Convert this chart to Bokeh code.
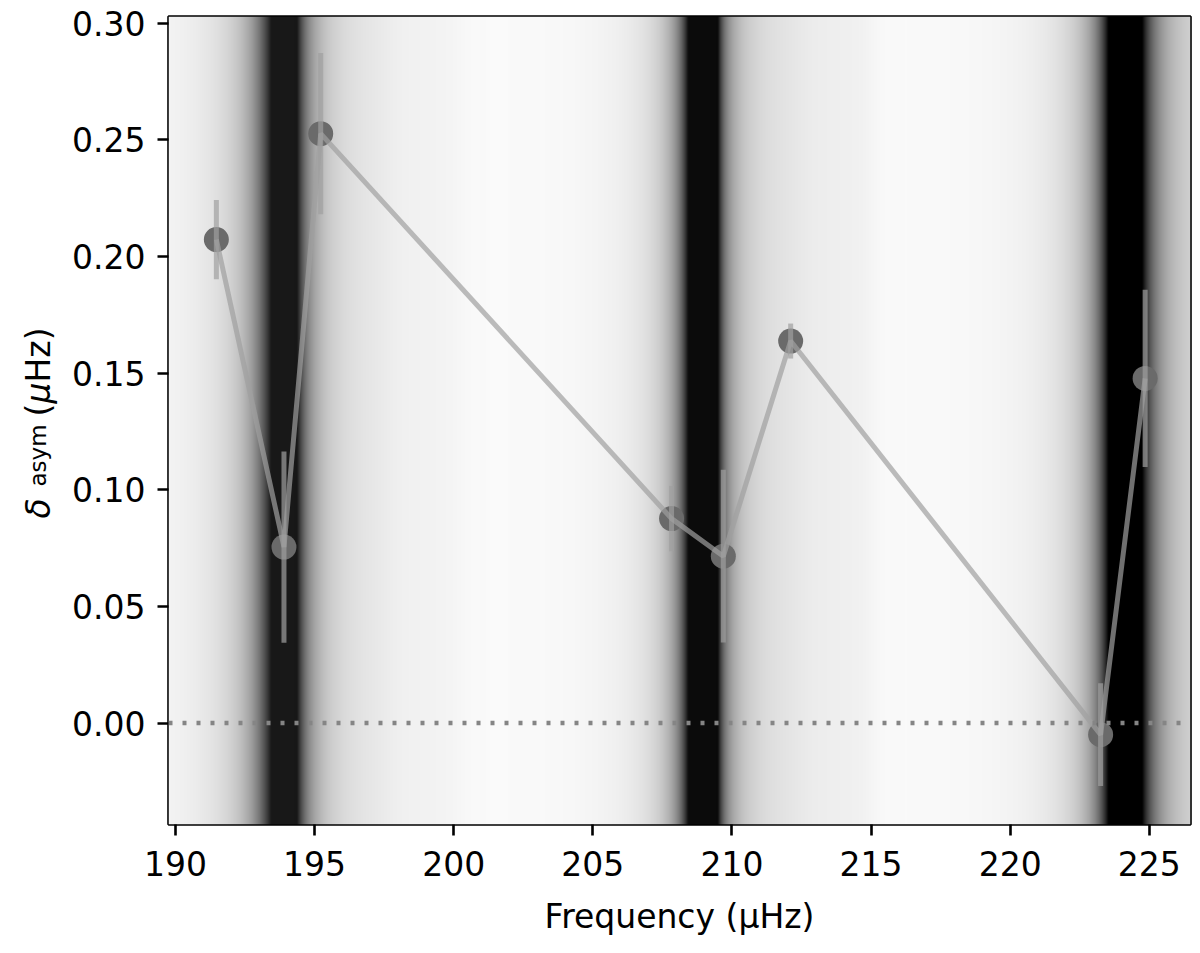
import numpy as np
from bokeh.plotting import figure
from bokeh.layouts import row
from bokeh.models import Range1d, FixedTicker, NumeralTickFormatter, Span
from bokeh.core.properties import value
from bokeh.embed import file_html
from bokeh.resources import INLINE

# ---- data ----
freq = [191.47, 193.90, 195.22, 207.83, 209.69, 212.11, 223.25, 224.85]
delta_asym = [0.2072, 0.0754, 0.2526, 0.0876, 0.0715, 0.1637, -0.0050, 0.1477]
delta_err = [0.017, 0.041, 0.0346, 0.014, 0.037, 0.0075, 0.022, 0.038]

x_ticks = [190, 195, 200, 205, 210, 215, 220, 225]
y_ticks = [0.00, 0.05, 0.10, 0.15, 0.20, 0.25, 0.30]

# background model-spectrum bands (grey image)
band_centers = [193.90, 208.98, 224.15]
band_h_left = [1.21, 2.0, 2.0]
band_w_left = [0.80, 0.52, 0.60]
band_h_right = [1.5, 3.0, 2.0]
band_w_right = [0.56, 0.35, 0.60]
band_cap = [0.90, 0.95, 1.0]
shelf_levels = [[0.02, 0.025], [0.02, 0.04], [0.06, 0.0]]
shelf_ends = [[3.7, 6.3], [3.5, 6.0], [6.0, 6.0]]

x_lo, x_hi = 189.75, 226.48
y_lo, y_hi = -0.0435, 0.3028

# ---- background image ----
nx = 1022
xs = np.linspace(x_lo, x_hi, nx)
dark = np.zeros(nx)


def sig(z):
    return 1.0 / (1.0 + np.exp(-z))


for k, c in enumerate(band_centers):
    dx = xs - c
    h = np.where(dx < 0, band_h_left[k], band_h_right[k])
    w = np.where(dx < 0, band_w_left[k], band_w_right[k])
    core = np.minimum(h / (1.0 + (dx / w) ** 2), band_cap[k])
    shelf = np.zeros(nx)
    for a, e in zip(shelf_levels[k], shelf_ends[k]):
        shelf += a * sig((dx - 0.8) / 0.15) * sig((e - dx) / 0.25)
    dark += core + shelf
grey = (255 * (1 - np.clip(dark, 0, 1))).astype(np.uint8)
img = np.empty((2, nx), dtype=np.uint32)
view = img.view(dtype=np.uint8).reshape((2, nx, 4))
view[:, :, 0] = grey
view[:, :, 1] = grey
view[:, :, 2] = grey
view[:, :, 3] = 255

FONT = "DejaVu Sans"
H = 950
TOP = 16
FRAME_H = 808
BOTTOM = H - TOP - FRAME_H

# ---- main figure ----
p = figure(width=1132, height=H, output_backend="svg", toolbar_location=None,
           x_range=Range1d(x_lo, x_hi), y_range=Range1d(y_lo, y_hi),
           min_border_left=108, min_border_right=2, min_border_top=TOP,
           min_border_bottom=BOTTOM)
p.grid.visible = False
p.outline_line_color = "black"
p.outline_line_width = 2.6
p.background_fill_color = "white"
p.border_fill_color = "white"

p.image_rgba(image=[img], x=x_lo, y=y_lo, dw=x_hi - x_lo, dh=y_hi - y_lo)

zero = Span(location=0, dimension="width", line_color="#858585", line_width=4.5,
            line_dash="4 10")
p.add_layout(zero)

lo = [d - e for d, e in zip(delta_asym, delta_err)]
hi = [d + e for d, e in zip(delta_asym, delta_err)]

p.scatter(freq, delta_asym, size=25, fill_color="#6a6a6a", line_color=None)
p.segment(x0=freq, y0=lo, x1=freq, y1=hi, line_color="#a0a0a0", line_alpha=0.7,
          line_width=5)
p.line(freq, delta_asym, line_color="#a0a0a0", line_alpha=0.7, line_width=5)

for ax in (p.xaxis[0], p.yaxis[0]):
    ax.axis_line_color = None
    ax.major_tick_out = 11
    ax.major_tick_in = 0
    ax.major_tick_line_width = 2.6
    ax.minor_tick_line_color = None
    ax.major_label_text_font = FONT
    ax.major_label_text_font_size = "33px"
    ax.major_label_text_color = "black"

p.xaxis.ticker = FixedTicker(ticks=x_ticks)
p.yaxis.ticker = FixedTicker(ticks=y_ticks)
p.yaxis.formatter = NumeralTickFormatter(format="0.00")
p.xaxis.major_label_standoff = 15
p.yaxis.major_label_standoff = 12

p.xaxis.axis_label = "Frequency (μHz)"
p.xaxis.axis_label_text_font = FONT
p.xaxis.axis_label_text_font_size = "33px"
p.xaxis.axis_label_text_font_style = "normal"
p.xaxis.axis_label_text_color = "black"
p.xaxis.axis_label_standoff = 18

# ---- narrow strip holding the y-axis label (delta with subscript, units) ----
# its frame spans the same page rows as the main frame (page y 16..824)
lab = figure(width=60, height=H, output_backend="svg", toolbar_location=None,
             x_range=Range1d(0, 60), y_range=Range1d(TOP + FRAME_H, TOP),
             x_axis_type=None, y_axis_type=None,
             min_border_left=0, min_border_right=0,
             min_border_top=TOP, min_border_bottom=BOTTOM)
lab.grid.visible = False
lab.outline_line_color = None
lab.background_fill_color = "white"
lab.border_fill_color = "white"

label_parts = ["δ", "asym", "(", "μ", "Hz)"]
label_pos = [518, 486, 416, 403, 382]
label_size = ["33px", "23px", "33px", "33px", "33px"]
label_style = ["italic", "normal", "normal", "italic", "normal"]
for txt, yy, fs, st in zip(label_parts, label_pos, label_size, label_style):
    lab.text(x=[37.5], y=[yy], text=[txt], angle=np.pi / 2, text_align="left",
             text_baseline="alphabetic", text_font=value(FONT),
             text_font_size=fs, text_font_style=st, text_color="black")

layout = row(lab, p)
open("out.html", "w").write(file_html(layout, INLINE))
